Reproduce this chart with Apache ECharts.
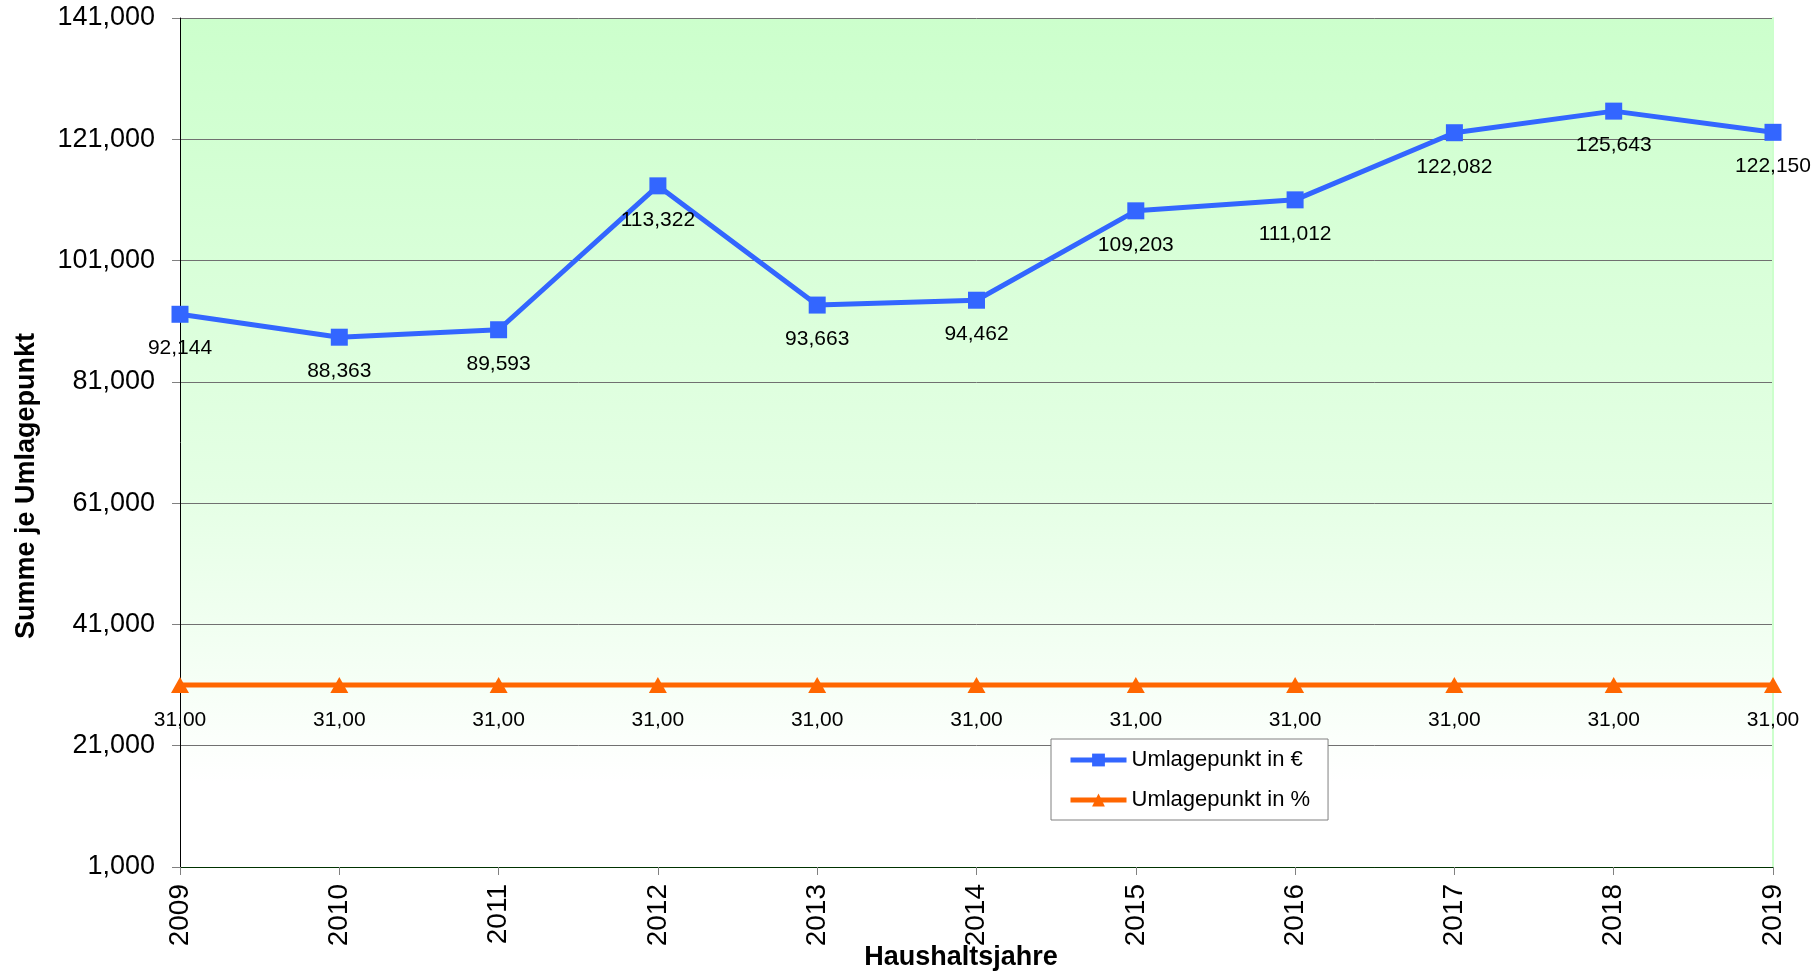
<!DOCTYPE html>
<html>
<head>
<meta charset="utf-8">
<script src="https://cdn.jsdelivr.net/npm/echarts@6/dist/echarts.min.js"></script>
<style>
html,body{margin:0;padding:0;background:#fff;}
#chart{width:1816px;height:976px;}
</style>
</head>
<body>
<div id="chart"></div>
<script>
const years = ['2009','2010','2011','2012','2013','2014','2015','2016','2017','2018','2019'];
const umlageEuro = [92144, 88363, 89593, 113322, 93663, 94462, 109203, 111012, 122082, 125643, 122150];
const umlageProzent = [31, 31, 31, 31, 31, 31, 31, 31, 31, 31, 31];
const seriesNames = ['Umlagepunkt in €', 'Umlagepunkt in %'];
const yTitle = 'Summe je Umlagepunkt';
const xTitle = 'Haushaltsjahre';

const FONT = '"Liberation Sans", Arial, sans-serif';
const chart = echarts.init(document.getElementById('chart'));

chart.setOption({
  animation: false,
  backgroundColor: '#ffffff',
  textStyle: { fontFamily: FONT, color: '#000' },
  grid: {
    left: 180, right: 43, top: 18, bottom: 109,
    show: true, borderWidth: 0,
    backgroundColor: new echarts.graphic.LinearGradient(0, 0, 0, 1, [
      { offset: 0, color: '#ccffcc' },
      { offset: 0.55, color: '#e4ffe4' },
      { offset: 0.9, color: '#ffffff' },
      { offset: 1, color: '#ffffff' }
    ])
  },
  legend: {
    orient: 'vertical',
    left: 1051, top: 739,
    backgroundColor: '#ffffff',
    borderColor: '#808080', borderWidth: 1,
    padding: [10, 18, 9, 17],
    itemWidth: 56, itemHeight: 16, itemGap: 18,
    lineStyle: { width: 5 },
    textStyle: { fontSize: 22, fontFamily: FONT, color: '#000' },
    data: seriesNames
  },
  graphic: [
    {
      type: 'text', x: 27, y: 486, rotation: Math.PI / 2,
      style: { text: yTitle, fontSize: 27, fontWeight: 'bold', fontFamily: FONT, fill: '#000', align: 'center', verticalAlign: 'middle' }
    },
    {
      type: 'text', x: 961, y: 958,
      style: { text: xTitle, fontSize: 27, fontWeight: 'bold', fontFamily: FONT, fill: '#000', align: 'center', verticalAlign: 'middle' }
    }
  ],
  xAxis: {
    type: 'category', data: years, boundaryGap: false,
    axisLine: { lineStyle: { color: '#003300', width: 1 } },
    axisTick: { show: true, length: 8, lineStyle: { color: '#808080' }, alignWithLabel: true },
    axisLabel: { rotate: 90, fontSize: 28, color: '#000', margin: 17, fontFamily: FONT },
    splitLine: { show: false }
  },
  yAxis: [
    {
      type: 'value', min: 1000, max: 141000, interval: 20000,
      axisLine: { show: true, lineStyle: { color: '#000', width: 1 } },
      axisTick: { show: true, length: 8, lineStyle: { color: '#808080' } },
      axisLabel: {
        fontSize: 27, color: '#000', margin: 25, fontFamily: FONT,
        formatter: v => v.toLocaleString('en-US')
      },
      splitLine: { show: true, lineStyle: { color: '#707070', width: 1 } }
    },
    {
      type: 'value', min: 1, max: 141, interval: 20, position: 'right',
      axisLine: { show: true, lineStyle: { color: '#ccffcc', width: 2 } },
      axisTick: { show: false }, axisLabel: { show: false }, splitLine: { show: false }
    }
  ],
  series: [
    {
      name: seriesNames[0], type: 'line', yAxisIndex: 0, data: umlageEuro,
      symbol: 'rect', symbolSize: 17,
      lineStyle: { color: '#3366ff', width: 5 },
      itemStyle: { color: '#3366ff' },
      label: {
        show: true, position: 'bottom', distance: 15, fontSize: 21, color: '#000', fontFamily: FONT,
        formatter: p => p.value.toLocaleString('en-US')
      },
      z: 3
    },
    {
      name: seriesNames[1], type: 'line', yAxisIndex: 1, data: umlageProzent,
      symbol: 'triangle', symbolSize: [18, 16],
      lineStyle: { color: '#ff6600', width: 5 },
      itemStyle: { color: '#ff6600' },
      label: {
        show: true, position: 'bottom', distance: 17, fontSize: 21, color: '#000', fontFamily: FONT,
        formatter: p => p.value.toFixed(2).replace('.', ',')
      },
      z: 2
    }
  ]
});
</script>
</body>
</html>
